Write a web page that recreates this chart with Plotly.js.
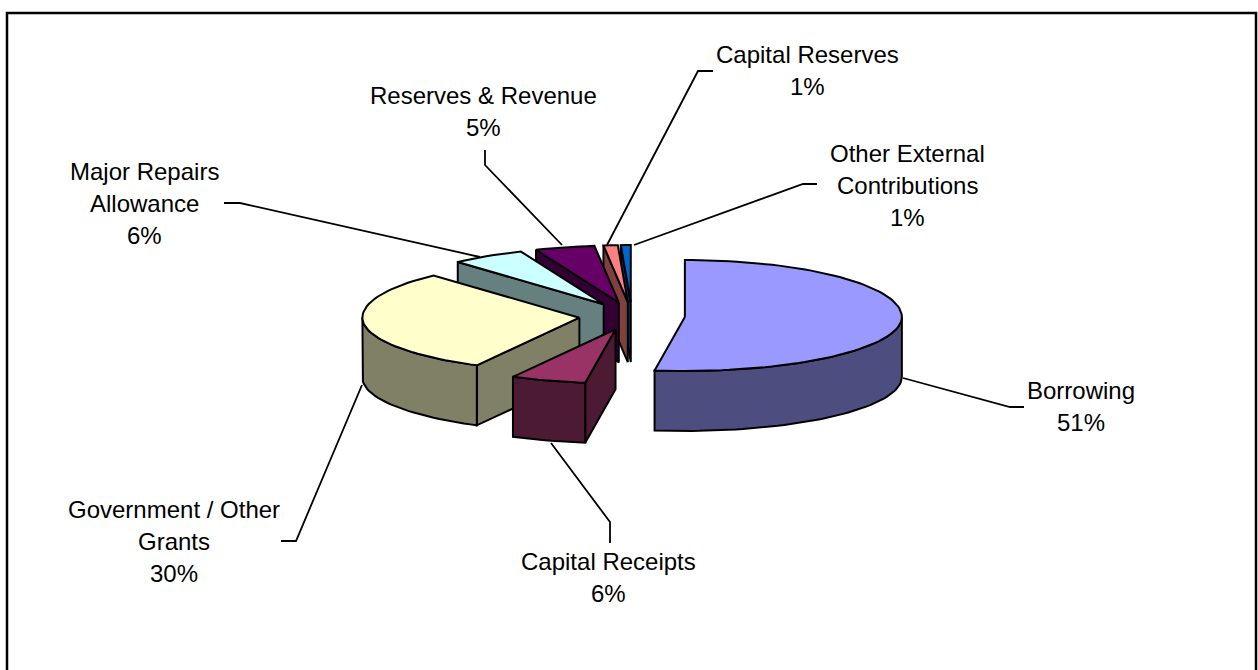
<!DOCTYPE html>
<html>
<head>
<meta charset="utf-8">
<script src="https://cdn.plot.ly/plotly-3.0.1.min.js"></script>
<style>html,body{margin:0;padding:0;background:#fff;overflow:hidden}#chart{width:1258px;height:670px}</style>
</head>
<body>
<div id="chart"></div>
<script>
// Data, in drawing order round the pie (clockwise from 12 o'clock)
const categories = ["Borrowing", "Capital Receipts", "Government / Other Grants", "Major Repairs Allowance", "Reserves & Revenue", "Capital Reserves", "Other External Contributions"];
const shares = [51.4, 5.6, 30.4, 5.5, 4.8, 1.3, 0.9];
const topColors = ["#9999FF", "#993366", "#FFFFCC", "#CCFFFF", "#660066", "#FF8080", "#0066CC"];
const wallColors = ["#4D4D80", "#4D1A33", "#808066", "#668080", "#330033", "#804040", "#003366"];
const labelLines = [["Borrowing"], ["Capital Receipts"], ["Government / Other", "Grants"], ["Major Repairs", "Allowance"], ["Reserves & Revenue"], ["Capital Reserves"], ["Other External", "Contributions"]];

// Presentation
const P = {cx: 632, cy: 316, rx: 217, ryBack: 57, ryFront: 54, depth: 60, explode: 53, skew: 2.8};
const labelPos = [[1081, 390], [608, 561], [174, 509], [144, 171], [483, 95], [807, 54], [907, 153]];
const leaders = [
  [[1024, 407], [1010, 407], [903, 378]],
  [[610, 543], [610, 522], [551, 443]],
  [[281, 541], [296, 541], [362, 385]],
  [[224, 203], [240, 203], [480, 257]],
  [[485, 150], [485, 165], [562, 245]],
  [[713, 71], [698, 71], [607, 245]],
  [[817, 184], [803, 184], [634, 245]]
];
const LINE_GAP = 32, FONT = 24;

const rad = d => d * Math.PI / 180;
// The reference's 3-D view foreshortens angles a little: this maps a true angle to its drawn angle
const view = t => t + P.skew * Math.min(1, t / 180) * Math.min(1, (360 - t) / 15);
const total = shares.reduce((a, b) => a + b, 0);
let acc = 0;
const slices = shares.map((s, i) => {
  const start = view(acc / total * 360); acc += s;
  const end = view(acc / total * 360), mid = (start + end) / 2;
  return {i, start, end,
    ax: P.cx + P.explode * Math.sin(rad(mid)),
    ay: P.cy - P.explode * Math.cos(rad(mid)) * P.ryBack / P.rx};
});
function rim(sl, deg) {
  const c = Math.cos(rad(deg));
  return [sl.ax + P.rx * Math.sin(rad(deg)), sl.ay - (c < 0 ? P.ryFront : P.ryBack) * c];
}
function poly(pts, fill) {
  const x = pts.map(p => p[0]), y = pts.map(p => p[1]);
  x.push(x[0]); y.push(y[0]);
  return {type: "scatter", mode: "lines", x, y, fill: "toself", fillcolor: fill,
    line: {color: "#000", width: 2, shape: "linear"}, hoverinfo: "skip", showlegend: false};
}
function arcPts(sl, a, b) {
  const out = [], n = Math.max(2, Math.ceil((b - a) / 2));
  for (let k = 0; k <= n; k++) out.push(rim(sl, a + (b - a) * k / n));
  return out;
}

const traces = [];
leaders.forEach(l => traces.push({type: "scatter", mode: "lines", x: l.map(p => p[0]), y: l.map(p => p[1]),
  line: {color: "#000", width: 1.8}, hoverinfo: "skip", showlegend: false}));

slices.slice().reverse().forEach(sl => {
  const wall = wallColors[sl.i], d = P.depth, apex = [sl.ax, sl.ay];
  const drop = p => [p[0], p[1] + d];
  const side = deg => { const r = rim(sl, deg); return [apex, r, drop(r), drop(apex)]; };
  if (sl.start > 180) traces.push(poly(side(sl.start), wall));
  if (sl.end < 180) traces.push(poly(side(sl.end), wall));
  const a = Math.max(sl.start, 90), b = Math.min(sl.end, 270);
  if (b > a) {
    const arc = arcPts(sl, a, b);
    traces.push(poly(arc.concat(arc.slice().reverse().map(drop)), wall));
  }
  traces.push(poly([apex].concat(arcPts(sl, sl.start, sl.end)), topColors[sl.i]));
});

const annotations = [];
categories.forEach((c, i) => {
  const lines = labelLines[i].concat([Math.round(shares[i]) + "%"]);
  lines.forEach((t, k) => annotations.push({
    xref: "x", yref: "y", x: labelPos[i][0], y: labelPos[i][1] + k * LINE_GAP,
    text: t, showarrow: false, xanchor: "center", yanchor: "middle",
    font: {family: "Liberation Sans, Arial, sans-serif", size: FONT, color: "#000"}
  }));
});

const layout = {
  width: 1258, height: 670, margin: {l: 0, r: 0, t: 0, b: 0},
  paper_bgcolor: "#fff", plot_bgcolor: "#fff", showlegend: false, hovermode: false,
  xaxis: {range: [0, 1258], visible: false, fixedrange: true},
  yaxis: {range: [670, 0], visible: false, fixedrange: true},
  shapes: [{type: "rect", xref: "x", yref: "y", x0: 7, y0: 13, x1: 1256, y1: 700, line: {color: "#000", width: 2.5}, fillcolor: "rgba(0,0,0,0)", layer: "below"}],
  annotations
};
Plotly.newPlot("chart", traces, layout, {displayModeBar: false, staticPlot: true});
</script>
</body>
</html>
